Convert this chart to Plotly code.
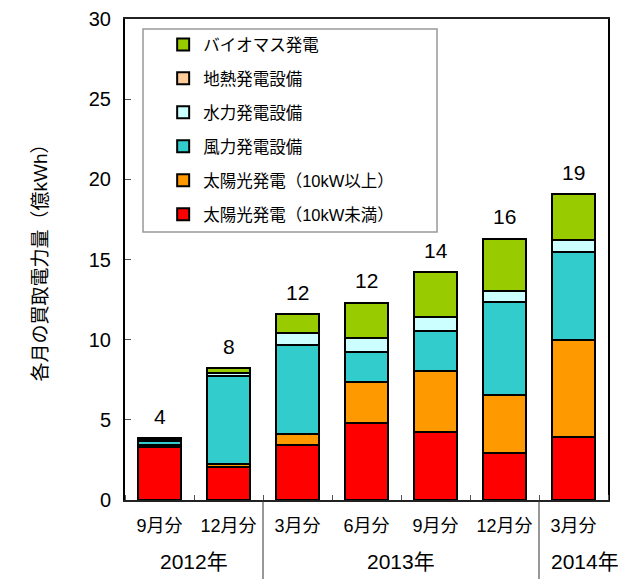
import plotly.graph_objects as go

months = ["9月分", "12月分", "3月分", "6月分", "9月分", "12月分", "3月分"]
years = ["2012年", "2013年", "2014年"]
year_groups = [[0, 1], [2, 3, 4, 5], [6]]

solar_small = [3.33, 2.08, 3.46, 4.80, 4.23, 2.96, 3.96]
solar_large = [0.12, 0.17, 0.64, 2.57, 3.79, 3.56, 6.00]
wind = [0.23, 5.50, 5.59, 1.86, 2.54, 5.83, 5.50]
hydro = [0.10, 0.20, 0.73, 0.85, 0.86, 0.71, 0.74]
geothermal = [0.0, 0.0, 0.0, 0.0, 0.0, 0.0, 0.0]
biomass = [0.08, 0.28, 1.18, 2.21, 2.78, 3.25, 2.88]
total_labels = ["4", "8", "12", "12", "14", "16", "19"]

series = [
    ("太陽光発電（10kW未満）", solar_small, "#FF0000"),
    ("太陽光発電（10kW以上）", solar_large, "#FF9900"),
    ("風力発電設備", wind, "#33CCCC"),
    ("水力発電設備", hydro, "#CCFFFF"),
    ("地熱発電設備", geothermal, "#FFCC99"),
    ("バイオマス発電", biomass, "#99CC00"),
]

FONT = "Liberation Sans, Arial, Noto Sans CJK JP"
xs = list(range(len(months)))

fig = go.Figure()
for i, (name, vals, color) in enumerate(series):
    fig.add_trace(go.Bar(
        x=xs, y=vals, name=name, legendgroup=f"g{i}", legendrank=1000 - i,
        marker=dict(color=color, line=dict(color="black", width=2)),
        width=0.61,
    ))

totals = [sum(s[1][k] for s in series) for k in xs]
annotations = []
for k in xs:
    annotations.append(dict(x=k, y=totals[k], text=total_labels[k], showarrow=False,
                            xref="x", yref="y", yanchor="middle", yshift=22,
                            font=dict(size=21, color="black", family=FONT)))

year_shift = [0, 0, 11]
for yi, (yr, grp) in enumerate(zip(years, year_groups)):
    cx = sum(grp) / len(grp)
    annotations.append(dict(x=cx, y=-0.127, xref="x", yref="paper", text=yr,
                            showarrow=False, yanchor="middle", xshift=year_shift[yi],
                            font=dict(size=21, color="black", family=FONT)))

annotations.append(dict(x=-0.175, y=0.503, xref="paper", yref="paper",
                        text="各月の買取電力量（億kWh）", textangle=-90, showarrow=False,
                        xanchor="center", yanchor="middle",
                        font=dict(size=19, color="black", family=FONT)))

shapes = []
for grp in year_groups[:-1]:
    b = grp[-1] + 0.5
    shapes.append(dict(type="line", xref="x", yref="paper", x0=b, x1=b, y0=0, y1=-0.18,
                       line=dict(color="#333333", width=1)))
shapes.append(dict(type="rect", xref="paper", yref="paper", x0=0.0373, x1=0.646,
                   y0=0.557, y1=0.979, line=dict(color="#999999", width=1.5),
                   fillcolor="rgba(0,0,0,0)", layer="below"))

# page body has an 8px margin: size and margins compensate so the plot area
# lands at x 125-608, y 19-500 of the 633x579 window
fig.update_layout(
    barmode="stack",
    width=625, height=571,
    margin=dict(l=117, r=25, t=11, b=79),
    plot_bgcolor="white", paper_bgcolor="white",
    font=dict(family=FONT, color="black"),
    showlegend=True,
    legend=dict(x=0.079, y=0.983, xanchor="left", yanchor="top",
                traceorder="grouped", tracegroupgap=9.5,
                bgcolor="rgba(0,0,0,0)", borderwidth=0,
                font=dict(size=16.5, family=FONT)),
    annotations=annotations,
    shapes=shapes,
)
fig.update_xaxes(
    automargin=False,
    range=[-0.5, len(months) - 0.5],
    tickmode="array", tickvals=xs, ticktext=months,
    ticks="", tickfont=dict(size=18, family=FONT),
    ticklabelstandoff=8,
    showline=True, linecolor="#222222", linewidth=2, mirror=True,
    showgrid=False, zeroline=False,
    minor=dict(tick0=0.5, dtick=1, ticks="inside", ticklen=5, tickcolor="#555555"),
)
fig.update_yaxes(
    automargin=False,
    range=[0, 30], dtick=5, ticks="inside", ticklen=6, tickcolor="#555555",
    tickfont=dict(size=20, family=FONT), ticklabelstandoff=8,
    showline=True, linecolor="black", linewidth=2, mirror=True,
    showgrid=False, zeroline=False,
)

fig.write_html("out.html")
